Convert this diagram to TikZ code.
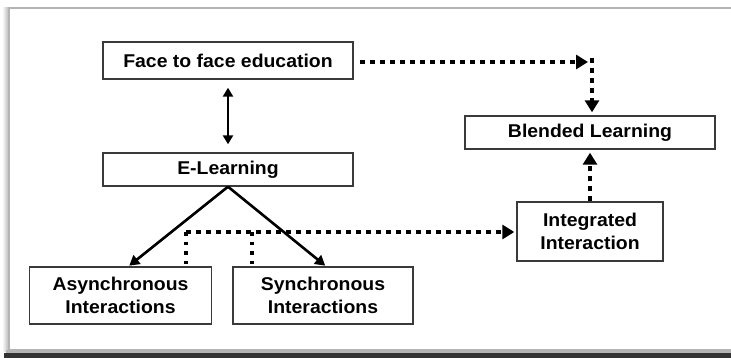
\documentclass[tikz,border=0pt]{standalone}
\usepackage{fontspec}
\setmainfont{Liberation Sans}[FakeStretch=1.05]
\usetikzlibrary{arrows.meta}
\definecolor{boxline}{HTML}{3A3A3A}
\definecolor{panelline}{HTML}{B4B4B4}
\definecolor{panelbase}{HTML}{333333}
\begin{document}
\begin{tikzpicture}[x=1pt,y=-1pt,
  box/.style={draw=boxline,line width=1.4pt,fill=white,inner sep=0pt,
    align=center,font=\bfseries\fontsize{18.5}{23}\selectfont},
  solidarrow/.style={line width=2.6pt,-{Triangle[length=10pt,width=11pt]}},
  bothways/.style={line width=2.6pt,{Triangle[length=9pt,width=10pt]}-{Triangle[length=9pt,width=10pt]}},
  dotted line/.style={line width=4.8pt,dash pattern=on 4.8pt off 5.2pt},
  dotarrow/.style={dotted line,-{Triangle[length=12pt,width=14pt]}},
  thin dots/.style={line width=3.6pt,dash pattern=on 3.6pt off 6pt}]
\useasboundingbox (0,0) rectangle (731,358);
% panel with its shadow
\shade[left color=white,right color=panelline] (2,8) rectangle (9,351);
\fill[panelbase] (4,353) rectangle (731,358);
\fill[panelline] (6,350) rectangle (731,353);
\filldraw[fill=white,draw=panelline,line width=1.2pt] (9,8) rectangle (740,350);

% boxes
\node[box,minimum width=250pt,minimum height=37pt] (face) at (228,60.5) {Face to face education};
\node[box,minimum width=250pt,minimum height=33pt] (elearn) at (228,169.5) {E-Learning};
\node[box,minimum width=250pt,minimum height=33pt] (blended) at (590,132.5) {Blended Learning};
\node[box,minimum width=146pt,minimum height=59pt] (integ) at (590,231.5) {Integrated\\Interaction};
\node[box,minimum width=182pt,minimum height=57pt] (async) at (120.5,295.5) {Asynchronous\\Interactions};
\node[box,minimum width=180pt,minimum height=57pt] (sync) at (323,295.5) {Synchronous\\Interactions};

% solid connectors
\draw[bothways,shorten <=8pt,shorten >=8pt] (face.south) -- (elearn.north);
\draw[solidarrow,shorten >=1pt] (elearn.south) -- ([xshift=8pt]async.north);
\draw[solidarrow,shorten >=1pt] (elearn.south) -- ([xshift=3pt]sync.north);

% dotted connectors
\coordinate (d1) at (186,232);
\coordinate (d2) at (252,232);
\coordinate (corner) at (592,62);
\draw[thin dots] (d1) -- (d1 |- async.north);
\draw[thin dots] (d2) -- (d2 |- sync.north);
\draw[dotarrow,shorten >=2pt] (d1) -- (d1 -| integ.west);
\draw[dotarrow,shorten >=4pt] ([xshift=6pt]face.east |- corner) -- (corner);
\draw[dotarrow,shorten >=3pt] ([yshift=4pt]corner) -- (corner |- blended.north);
\draw[dotarrow,shorten >=3pt] (integ.north) -- (integ.north |- blended.south);
\end{tikzpicture}
\end{document}
